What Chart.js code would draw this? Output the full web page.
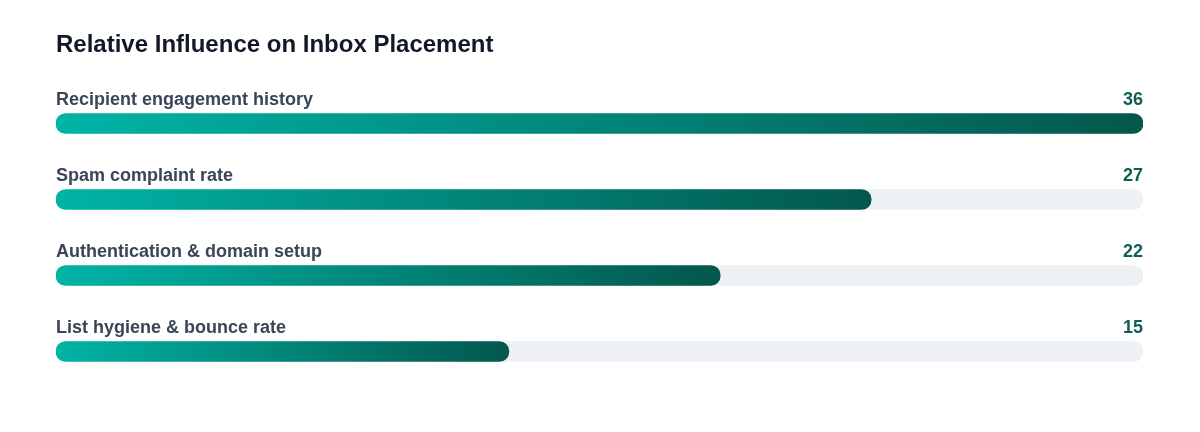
<!DOCTYPE html>
<html>
<head>
<meta charset="utf-8">
<script src="https://cdn.jsdelivr.net/npm/chart.js@4.4.1/dist/chart.umd.min.js"></script>
<style>
  html, body { margin: 0; padding: 0; background: #ffffff; }
  .wrap { width: 1200px; height: 432px; position: relative; }
</style>
</head>
<body>
<div class="wrap"><canvas id="chart"></canvas></div>
<script>
const title = 'Relative Influence on Inbox Placement';
const categories = [
  'Recipient engagement history',
  'Spam complaint rate',
  'Authentication & domain setup',
  'List hygiene & bounce rate'
];
const influence = [36, 27, 22, 15];
const SCALE_MAX = 36;
const trackValues = [36, 36, 36, 36];

const FONT = '"Liberation Sans", Arial, Helvetica, sans-serif';

function barGradient(context) {
  const chart = context.chart;
  const area = chart.chartArea;
  if (!area || context.type !== 'data') return '#00a596';
  const x = chart.scales.x;
  const left = x.getPixelForValue(0);
  const right = x.getPixelForValue(influence[context.dataIndex]);
  const g = chart.ctx.createLinearGradient(left, 0, right, 0);
  g.addColorStop(0, '#00b4a6');
  g.addColorStop(1, '#03574c');
  return g;
}

// labels above each bar: category name on the left, value on the right
const rowLabels = {
  id: 'rowLabels',
  afterDatasetsDraw(chart) {
    const { ctx, chartArea, scales } = chart;
    ctx.save();
    ctx.textBaseline = 'alphabetic';
    categories.forEach((name, i) => {
      const y = scales.y.getPixelForValue(i) - 19;
      ctx.font = 'bold 18px ' + FONT;
      ctx.fillStyle = '#3a4556';
      ctx.textAlign = 'left';
      ctx.fillText(name, chartArea.left, y);
      ctx.fillStyle = '#0d5f54';
      ctx.textAlign = 'right';
      ctx.fillText(String(influence[i]), chartArea.right, y);
    });
    ctx.restore();
  }
};

new Chart(document.getElementById('chart'), {
  type: 'bar',
  data: {
    labels: categories,
    datasets: [
      {
        label: 'Influence',
        data: influence,
        backgroundColor: barGradient,
        borderWidth: 0,
        borderRadius: 10,
        borderSkipped: false,
        barThickness: 20,
        grouped: false,
        order: 1
      },
      {
        label: 'Track',
        data: trackValues,
        backgroundColor: '#eef1f4',
        borderWidth: 0,
        borderRadius: 10,
        borderSkipped: false,
        barThickness: 20,
        grouped: false,
        order: 2
      }
    ]
  },
  options: {
    indexAxis: 'y',
    responsive: true,
    maintainAspectRatio: false,
    animation: false,
    layout: { padding: { left: 56, right: 57, top: 31, bottom: 42.5 } },
    plugins: {
      legend: { display: false },
      tooltip: { enabled: false },
      title: {
        display: true,
        text: title,
        align: 'start',
        color: '#111827',
        font: { family: FONT, size: 24, weight: 'bold' },
        padding: { top: 0, bottom: 25.7 }
      }
    },
    scales: {
      x: { display: false, min: 0, max: SCALE_MAX },
      y: { display: false }
    }
  },
  plugins: [rowLabels]
});
</script>
</body>
</html>
